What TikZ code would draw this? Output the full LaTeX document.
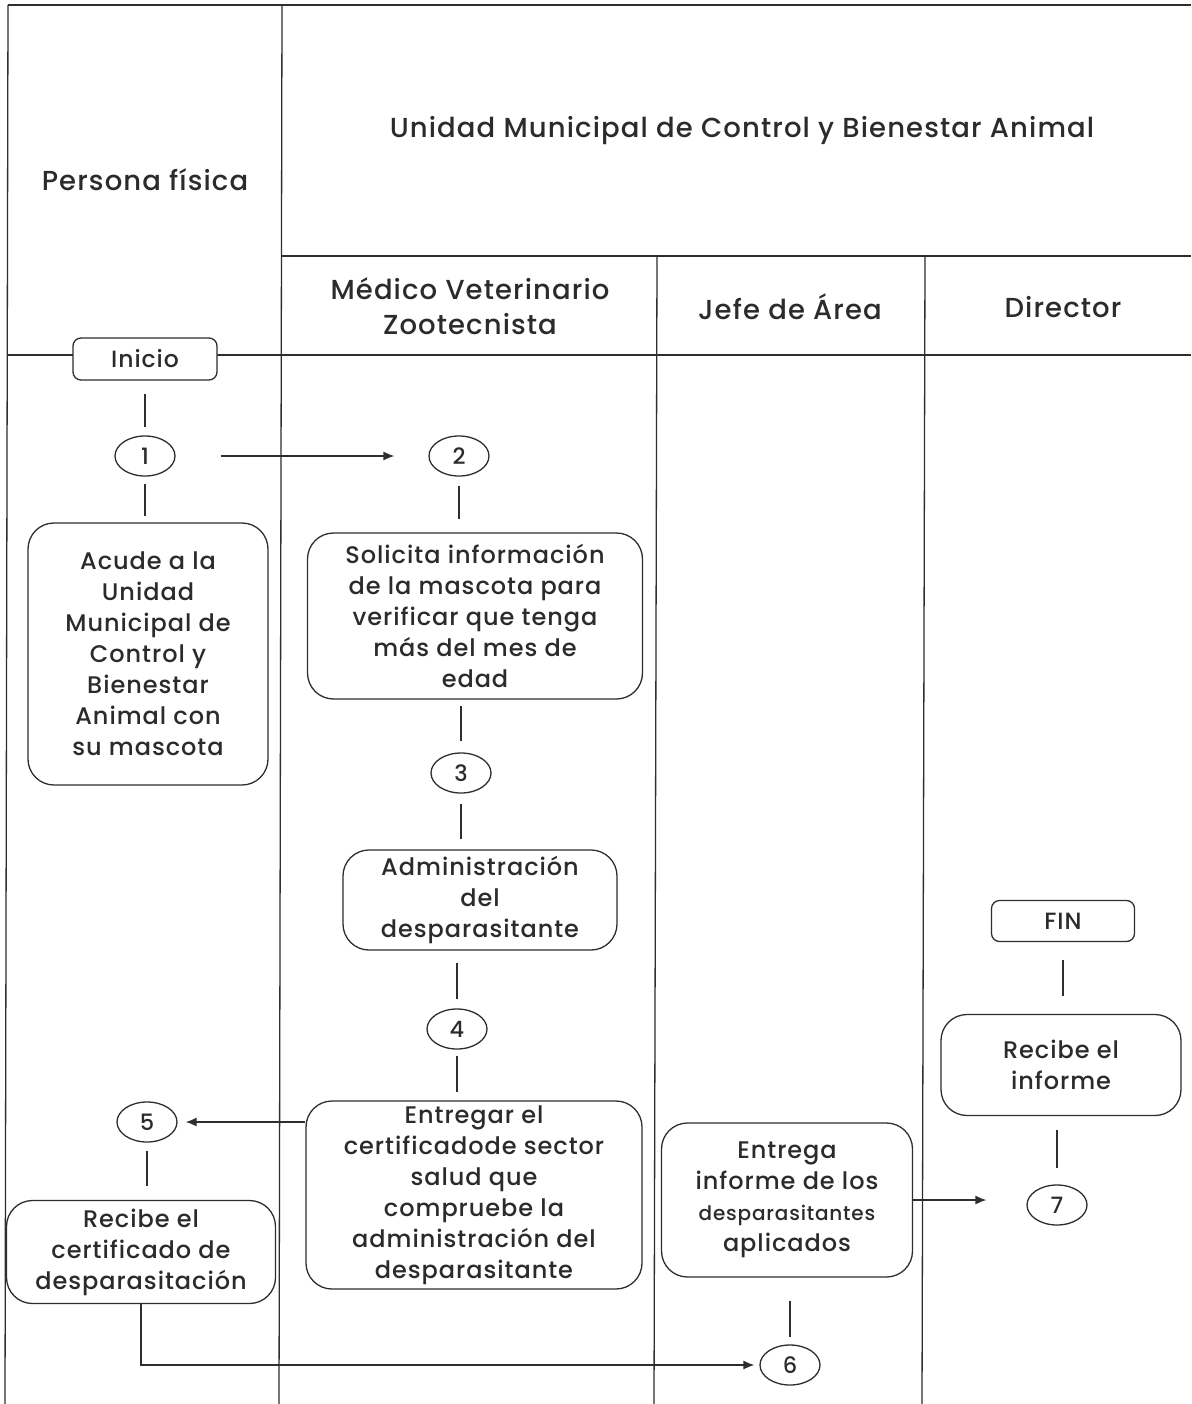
\documentclass[tikz,border=0pt]{standalone}
\usepackage{fontspec}
\setmainfont{Poppins}[UprightFont=* Medium, LetterSpace=4]
\usetikzlibrary{shapes.geometric,arrows.meta}
\definecolor{ink}{HTML}{2E2E2E}
\definecolor{txt}{HTML}{2B2B2B}
\tikzset{
  grid/.style={draw=ink, line width=1.3pt},
  hdr/.style={text=txt, font=\fontsize{27.5}{35}\selectfont, align=center, inner sep=0},
  box/.style={draw=ink, line width=1.3pt, rounded corners=26pt, align=center, inner sep=0,
     text=txt, fill=white, font=\fontsize{24}{31}\selectfont},
  term/.style={box, rounded corners=8pt, font=\fontsize{23.5}{26}\selectfont},
  num/.style={draw=ink, line width=1.3pt, ellipse, minimum width=60pt, minimum height=40pt,
     inner sep=0, text=txt, font=\fontsize{22.5}{24}\selectfont},
  conn/.style={draw=ink, line width=1.3pt},
  arr/.style={conn, -{Latex[length=11pt,width=9pt]}}
}
\begin{document}
\begin{tikzpicture}[x=1pt,y=-1pt]
\useasboundingbox[fill=white] (0,0) rectangle (1191,1404);
% table grid
\draw[grid] (8,5) -- (1191,5);
\draw[grid] (8,5) -- (5,1404);
\draw[grid] (282,5) -- (279,1404);
\draw[grid] (282,256) -- (1191,256);
\draw[grid] (8,355) -- (1191,355);
\draw[grid] (657,256) -- (654,1404);
\draw[grid] (925,256) -- (922,1404);
% headers
\node[hdr] (hpf) at (145,180) {Persona física};
\node[hdr] (hum) at (742,131) {Unidad Municipal de Control y Bienestar Animal};
\node[hdr] (hmv) at (470,306) {Médico Veterinario\\Zootecnista};
\node[hdr] (hja) at (790,307) {Jefe de Área};
\node[hdr] (hdi) at (1063,307) {Director};
% nodes
\node[term, minimum width=144pt, minimum height=42pt] (inicio) at (145,359) {Inicio};
\node[num] (c1) at (145,456) {1};
\node[box, minimum width=240pt, minimum height=262pt] (b1) at (148,654)
  {Acude a la\\Unidad\\Municipal de\\Control y\\Bienestar\\Animal con\\su mascota};
\node[num] (c2) at (459,456) {2};
\node[box, minimum width=335pt, minimum height=166pt] (b2) at (475,616)
  {Solicita información\\de la mascota para\\verificar que tenga\\más del mes de\\edad};
\node[num] (c3) at (461,773) {3};
\node[box, minimum width=274pt, minimum height=100pt] (b3) at (480,900)
  {Administración\\del\\desparasitante};
\node[num] (c4) at (457,1029) {4};
\node[box, minimum width=336pt, minimum height=188pt] (b4) at (474,1195)
  {Entregar el\\certificadode sector\\salud que\\compruebe la\\administración del\\desparasitante};
\node[num] (c5) at (147,1122) {5};
\node[box, minimum width=269pt, minimum height=103pt] (b5) at (141,1252)
  {Recibe el\\certificado de\\desparasitación};
\node[box, minimum width=251pt, minimum height=154pt] (b6) at (787,1200)
  {Entrega\\informe de los\\{\fontsize{20}{31}\selectfont desparasitantes}\\aplicados};
\node[num] (c6) at (790,1365) {6};
\node[term, minimum width=143pt, minimum height=41pt] (fin) at (1063,921) {FIN};
\node[box, minimum width=240pt, minimum height=101pt] (b7) at (1061,1065)
  {Recibe el\\informe};
\node[num] (c7) at (1057,1205) {7};
% connectors
\draw[conn, shorten <=13pt, shorten >=8pt] (inicio.south) -- (c1.north);
\draw[conn, shorten <=7pt, shorten >=6pt] (c1.south) -- (c1.south |- b1.north);
\draw[arr, shorten <=45pt, shorten >=34pt] (c1.east) -- (c2.west);
\draw[conn, shorten <=9pt, shorten >=13pt] (c2.south) -- (c2.south |- b2.north);
\draw[conn, shorten <=6pt, shorten >=11pt] (c3.north |- b2.south) -- (c3.north);
\draw[conn, shorten <=10pt, shorten >=10pt] (c3.south) -- (c3.south |- b3.north);
\draw[conn, shorten <=12pt, shorten >=9pt] (c4.north |- b3.south) -- (c4.north);
\draw[conn, shorten <=6pt, shorten >=8pt] (c4.south) -- (c4.south |- b4.north);
\draw[arr, shorten >=8pt] (b4.west |- c5.east) -- (c5.east);
\draw[conn, shorten <=8pt, shorten >=14pt] (c5.south) -- (c5.south |- b5.north);
\draw[arr, shorten >=5pt] (b5.south) |- (c6.west);
\draw[conn, shorten <=23pt, shorten >=7pt] (c6.north |- b6.south) -- (c6.north);
\draw[arr, shorten >=40pt] (b6.east) -- (b6.east -| c7.west);
\draw[conn, shorten <=18pt, shorten >=18pt] (fin.south) -- (fin.south |- b7.north);
\draw[conn, shorten <=14pt, shorten >=16pt] (c7.north |- b7.south) -- (c7.north);
\end{tikzpicture}
\end{document}
